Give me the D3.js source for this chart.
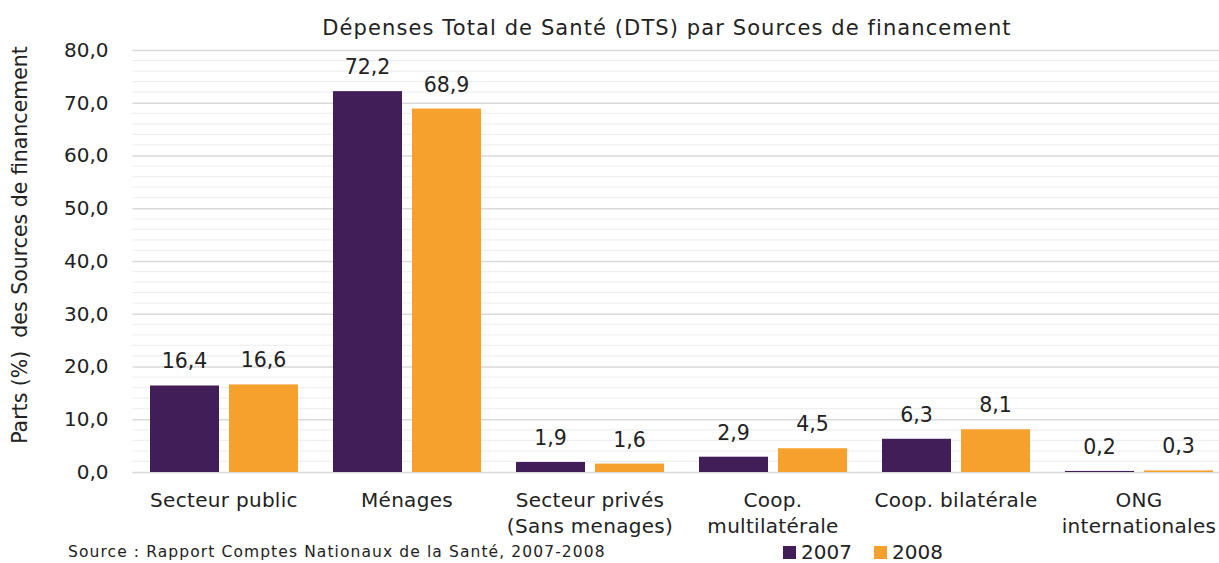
<!DOCTYPE html>
<html><head><meta charset="utf-8">
<script src="https://cdn.jsdelivr.net/npm/d3@7"></script>
<style>body{margin:0;background:#fff;} svg{display:block;font-family:"DejaVu Sans",sans-serif;}</style>
</head><body>
<svg id="c" width="1219" height="563"></svg>
<script>
const categories = [["Secteur public"],["Ménages"],["Secteur privés","(Sans menages)"],["Coop.","multilatérale"],["Coop. bilatérale"],["ONG","internationales"]];
const years = ["2007","2008"];
const values2007 = [16.4,72.2,1.9,2.9,6.3,0.2];
const values2008 = [16.6,68.9,1.6,4.5,8.1,0.3];
const yTicks = [0,10,20,30,40,50,60,70,80];
const colors = ["#411E58","#F6A02D"];
const title = "Dépenses Total de Santé (DTS) par Sources de financement";
const yLabel = "Parts (%)  des Sources de financement";
const source = "Source : Rapport Comptes Nationaux de la Santé, 2007-2008";

const svg = d3.select("#c");
const mLeft = 132.5, step = 183, mTop = 50, mBottom = 472;
const x0 = d3.scaleBand().domain(d3.range(categories.length)).range([mLeft, mLeft + step*categories.length]).paddingInner(0).paddingOuter(0);
const x1 = d3.scaleBand().domain(years).range([17.5, step-17.5]).paddingInner(10/79).paddingOuter(0);
const y = d3.scaleLinear().domain([0,80]).range([mBottom, mTop]);
const fmt = v => d3.format(".1f")(v).replace(".", ",");

// minor grid
svg.append("g").selectAll("line").data(d3.range(0,81,2).filter(v=>v%10!==0)).join("line")
  .attr("x1", mLeft).attr("x2", 1219).attr("y1", d=>y(d)).attr("y2", d=>y(d))
  .attr("stroke","#efefef").attr("stroke-width",1.2);
// major grid via axis
const ax = svg.append("g").attr("transform",`translate(${mLeft},0)`)
  .call(d3.axisLeft(y).tickValues(yTicks).tickFormat(fmt).tickSize(-(1219-mLeft)).tickPadding(24));
ax.select(".domain").remove();
ax.selectAll(".tick line").attr("stroke","#d9d9d9").attr("stroke-width",1.5);
ax.selectAll(".tick text").attr("fill","#222").style("font-size","20px").style("font-family","DejaVu Sans");

// bars
const series = [values2007, values2008];
const g = svg.append("g");
years.forEach((yr,si)=>{
  g.selectAll(".b"+si).data(series[si]).join("rect").attr("class","b"+si)
    .attr("x",(d,i)=>x0(i)+x1(yr)).attr("width",x1.bandwidth())
    .attr("y",d=>y(d)).attr("height",d=>mBottom-y(d)).attr("fill",colors[si]);
  g.selectAll(".l"+si).data(series[si]).join("text").attr("class","l"+si)
    .attr("x",(d,i)=>x0(i)+x1(yr)+x1.bandwidth()/2).attr("y",d=>y(d)-17)
    .attr("text-anchor","middle").attr("fill","#222").style("font-size","20.5px").text(fmt);
});

// category labels
categories.forEach((lines,i)=>{
  lines.forEach((t,j)=>{
    svg.append("text").attr("x",x0(i)+step/2).attr("y",507+j*26).attr("text-anchor","middle")
      .attr("fill","#222").style("font-size","20px").style("letter-spacing","0.3px").text(t);
  });
});

// title
svg.append("text").attr("x",667).attr("y",35).attr("text-anchor","middle").attr("fill","#222")
  .style("font-size","21px").style("letter-spacing","1.1px").text(title);
// y label
svg.append("text").attr("transform","translate(27,245) rotate(-90)").attr("text-anchor","middle").attr("fill","#222")
  .style("font-size","20.5px").style("white-space","pre").text(yLabel);
// source
svg.append("text").attr("x",68).attr("y",557).attr("fill","#222").style("font-size","15.5px").style("letter-spacing","1.1px").text(source);
// legend
const leg = svg.append("g");
const legX = [783, 874];
years.forEach((yr,i)=>{
  leg.append("rect").attr("x",legX[i]).attr("y",546).attr("width",13).attr("height",13).attr("fill",colors[i]);
  leg.append("text").attr("x",legX[i]+18).attr("y",559).attr("fill","#222").style("font-size","20px").text(yr);
});
</script></body></html>
